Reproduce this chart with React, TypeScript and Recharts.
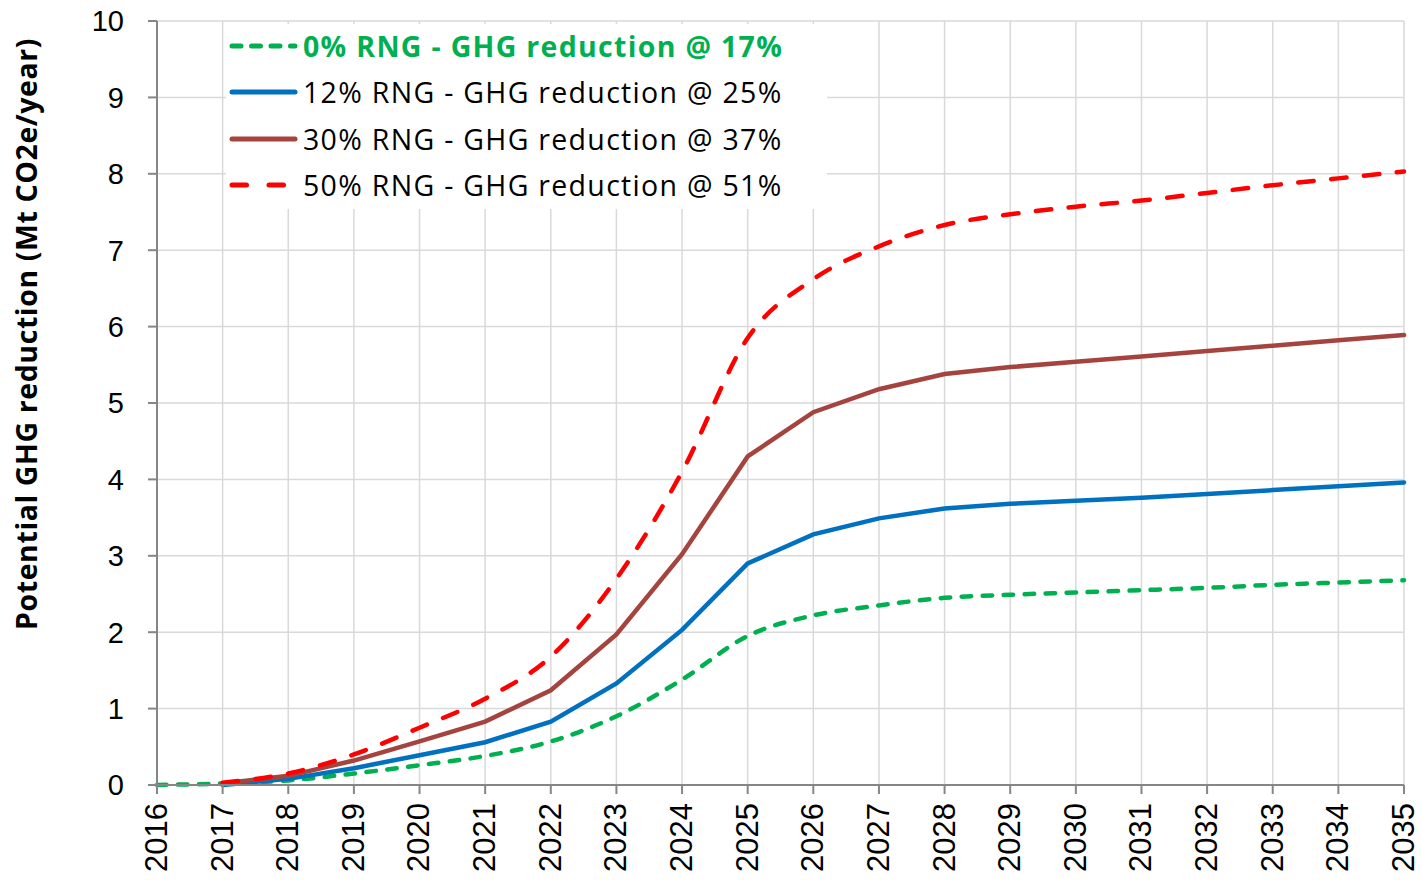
import { LineChart, Line, XAxis, YAxis, CartesianGrid } from "recharts";

const years = [2016, 2017, 2018, 2019, 2020, 2021, 2022, 2023, 2024, 2025, 2026, 2027, 2028, 2029, 2030, 2031, 2032, 2033, 2034, 2035];

const rng0 = [0, 0.02, 0.06, 0.15, 0.26, 0.38, 0.57, 0.9, 1.38, 1.95, 2.22, 2.35, 2.45, 2.49, 2.52, 2.55, 2.58, 2.62, 2.65, 2.68];
const rng12 = [null, 0, 0.08, 0.22, 0.39, 0.56, 0.83, 1.33, 2.03, 2.9, 3.28, 3.49, 3.62, 3.68, 3.72, 3.76, 3.81, 3.86, 3.91, 3.96];
const rng30 = [null, 0.02, 0.12, 0.32, 0.57, 0.83, 1.24, 1.97, 3.02, 4.3, 4.88, 5.18, 5.38, 5.47, 5.54, 5.61, 5.68, 5.75, 5.82, 5.89];
const rng50 = [null, 0.03, 0.15, 0.4, 0.75, 1.13, 1.68, 2.7, 4.1, 5.85, 6.62, 7.05, 7.33, 7.47, 7.57, 7.65, 7.75, 7.85, 7.94, 8.03];

const yTicks = [0, 1, 2, 3, 4, 5, 6, 7, 8, 9, 10];

const SERIES = [
  { key: "rng0", name: "0% RNG - GHG reduction @ 17%", color: "#00B050", dash: "9.5 11.5", legendDash: "9 10.5", curve: "monotone", bold: true },
  { key: "rng12", name: "12% RNG - GHG reduction @ 25%", color: "#0070C0", dash: undefined, legendDash: undefined, curve: "linear", bold: false },
  { key: "rng30", name: "30% RNG - GHG reduction @ 37%", color: "#A5443F", dash: undefined, legendDash: undefined, curve: "linear", bold: false },
  { key: "rng50", name: "50% RNG - GHG reduction @ 51%", color: "#FF0000", dash: "15.5 17.5", legendDash: "14.5 22.5", curve: "monotone", bold: false },
] as const;

const data = years.map((year, i) => ({
  year,
  rng0: rng0[i],
  rng12: rng12[i],
  rng30: rng30[i],
  rng50: rng50[i],
}));

const tickFont = "'Liberation Sans', Arial, sans-serif";
const textFont = "'Open Sans', Lato, sans-serif";

function YearTick({ x, y, payload }: any) {
  return (
    <text
      transform={`translate(${x},${y + 7}) rotate(-90)`}
      textAnchor="end"
      dy="0.32em"
      fontSize={31}
      fontFamily={tickFont}
      fill="#000"
    >
      {payload.value}
    </text>
  );
}

function ValueTick({ x, y, payload }: any) {
  return (
    <text x={x - 22} y={y} textAnchor="end" dy="0.36em" fontSize={29} fontFamily={tickFont} fill="#000">
      {payload.value}
    </text>
  );
}

function LegendBox() {
  return (
    <div
      style={{
        position: "absolute",
        left: 226,
        top: 24,
        width: 601,
        height: 185,
        background: "#fff",
      }}
    >
      {SERIES.map((s, i) => (
        <div key={s.key} style={{ position: "absolute", left: 0, top: i * 46.3 - 1, height: 46, display: "flex", alignItems: "center" }}>
          <svg width={77} height={12} style={{ display: "block" }}>
            <line x1={6} y1={6} x2={69} y2={6} stroke={s.color} strokeWidth={5} strokeDasharray={s.legendDash} strokeLinecap="round" />
          </svg>
          <span
            style={{
              fontFamily: textFont,
              fontSize: 28.5,
              letterSpacing: 1.3,
              fontWeight: s.bold ? 700 : 400,
              color: s.bold ? s.color : "#000",
              whiteSpace: "nowrap",
            }}
          >
            {s.name}
          </span>
        </div>
      ))}
    </div>
  );
}

export default function App() {
  return (
    <div style={{ position: "absolute", left: 0, top: 0, width: 1422, height: 880, background: "#fff", overflow: "hidden" }}>
      <LineChart width={1422} height={880} data={data} margin={{ top: 21, right: 18, bottom: 0, left: 0 }}>
        <CartesianGrid stroke="#d9d9d9" strokeWidth={1.5} />
        <XAxis
          dataKey="year"
          type="number"
          domain={[2016, 2035]}
          ticks={years}
          interval={0}
          height={95}
          tick={<YearTick />}
          tickSize={9}
          axisLine={{ stroke: "#868686", strokeWidth: 2 }}
          tickLine={{ stroke: "#868686", strokeWidth: 2 }}
        />
        <YAxis
          type="number"
          domain={[0, 10]}
          ticks={yTicks}
          interval={0}
          width={157}
          tick={<ValueTick />}
          tickSize={9}
          axisLine={{ stroke: "#868686", strokeWidth: 2 }}
          tickLine={{ stroke: "#868686", strokeWidth: 2 }}
          label={{
            content: () => (
              <text
                transform="translate(27,334) rotate(-90)"
                textAnchor="middle"
                dy="0.36em"
                fontSize={28.5}
                letterSpacing={0.6}
                fontWeight={700}
                fontFamily={textFont}
                fill="#000"
              >
                Potential GHG reduction (Mt CO2e/year)
              </text>
            ),
          }}
        />
        {SERIES.map((s) => (
          <Line
            key={s.key}
            dataKey={s.key}
            name={s.name}
            type={s.curve}
            stroke={s.color}
            strokeWidth={4.5}
            strokeDasharray={s.dash}
            strokeLinecap="round"
            dot={false}
            activeDot={false}
            connectNulls={false}
            isAnimationActive={false}
          />
        ))}
      </LineChart>
      <LegendBox />
    </div>
  );
}
